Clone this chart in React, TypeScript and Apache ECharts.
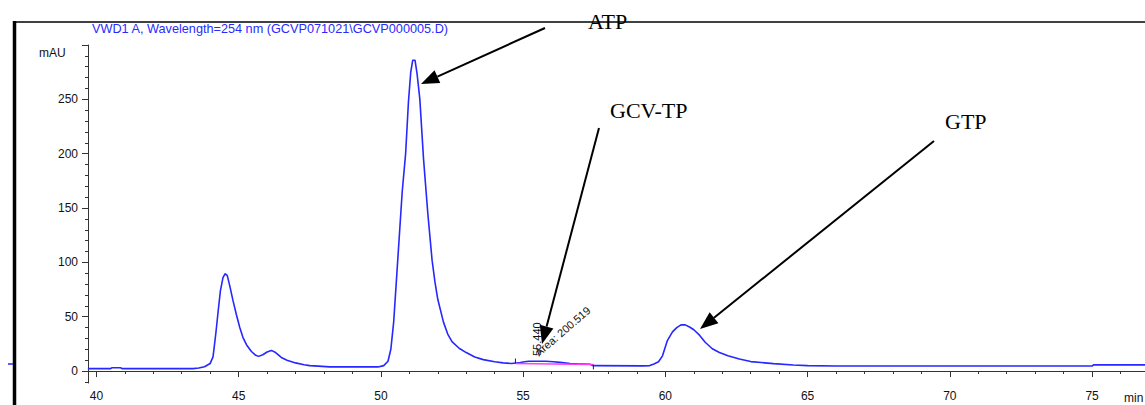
import React, { useEffect, useRef } from "react";
import * as echarts from "echarts";

// ---- data ----
const chromTime: number[] = [
  39.7, 40.5, 40.55, 40.85, 40.9, 43.4, 43.6, 43.8, 44.0, 44.1, 44.2, 44.28, 44.36, 44.45, 44.52,
  44.6, 44.7, 44.8, 44.92, 45.04, 45.15, 45.28, 45.45, 45.6, 45.7, 45.85, 46.0, 46.15, 46.3, 46.5,
  46.7, 47.0, 47.3, 47.5, 47.8, 48.2, 49.9, 50.1, 50.25, 50.35, 50.45, 50.55, 50.65, 50.75, 50.87,
  50.97, 51.05, 51.12, 51.2, 51.27, 51.37, 51.5, 51.65, 51.8, 51.9, 52.0, 52.2, 52.35, 52.5, 52.75,
  53.0, 53.3, 53.6, 54.0, 54.3, 54.6, 54.9, 55.05, 55.2, 55.8, 56.06, 56.3, 56.65, 56.9, 57.35,
  57.45, 59.2, 59.45, 59.6, 59.76, 59.9, 60.07, 60.25, 60.4, 60.55, 60.7, 60.85, 61.0, 61.2, 61.4,
  61.65, 61.9, 62.2, 62.6, 63.0, 63.8, 64.5, 65.0, 66.0, 75.0, 75.05, 76.9,
];
const chromMAU: number[] = [
  2.2, 2.2, 3.0, 3.0, 2.2, 2.2, 2.8, 4, 7, 13, 35, 55, 74, 86, 89.5,
  88, 77, 65, 52, 40, 31, 24, 18, 14.5, 13.5, 15, 17.5, 19, 17, 12.5,
  10, 7.5, 5.8, 5, 4.5, 3.8, 3.8, 5, 9, 20, 45, 85, 125, 165, 200,
  248, 275, 286, 286, 274, 250, 195, 145, 102, 82, 66, 45, 34, 27, 21,
  17, 13, 10.5, 8.5, 7.5, 7, 7.8, 8.5, 9, 9, 8.5, 8, 7, 6.6, 6.2,
  5, 4.8, 5, 6.5, 8.5, 14, 28, 36, 40, 42.5, 42.5, 40.5, 38, 33, 26.5,
  20.5, 17, 14, 11, 8.7, 6.8, 5.6, 5, 4.6, 4.6, 5.7, 5.7,
];
const baselineTime: number[] = [54.73, 57.47];
const baselineMAU: number[] = [7, 6];
const peakLabelRT = "55.440";
const peakLabelArea = "Area: 200.519";
const xMajorTicks: number[] = [40, 45, 50, 55, 60, 65, 70, 75];
const xMinorTicks: number[] = Array.from({ length: 37 }, (_, i) => 40 + i);
const yMajorTicks: number[] = [0, 50, 100, 150, 200, 250, 300];
const yLabelTicks: number[] = [0, 50, 100, 150, 200, 250];
const yMinorTicks: number[] = Array.from({ length: 32 }, (_, i) => -10 + i * 10);
const titleText = "VWD1 A, Wavelength=254 nm (GCVP071021\\GCVP000005.D)";
const yUnit = "mAU";
const xUnit = "min";
const annotations = ["ATP", "GCV-TP", "GTP"];

function arrow(x1: number, y1: number, x2: number, y2: number) {
  const dx = x2 - x1, dy = y2 - y1;
  const len = Math.sqrt(dx * dx + dy * dy);
  const ux = dx / len, uy = dy / len;
  const hl = 18, hw = 7;
  const bx = x2 - ux * hl, by = y2 - uy * hl;
  const px = -uy, py = ux;
  return [
    { type: "line", shape: { x1, y1, x2: bx, y2: by }, style: { stroke: "#000", lineWidth: 2 } },
    {
      type: "polygon",
      shape: { points: [[x2, y2], [bx + px * hw, by + py * hw], [bx - px * hw, by - py * hw]] },
      style: { fill: "#000" },
    },
  ];
}

export default function App() {
  const ref = useRef<HTMLDivElement>(null);
  useEffect(() => {
    if (!ref.current) return;
    const chart = echarts.init(ref.current, null, { renderer: "svg" });
    const xMin = 39.705, xMax = 76.86, yMin = -11, yMax = 300;
    const axisColor = "#333";
    const labelFont = { color: "#111", fontSize: 12, fontFamily: "Arial, 'Liberation Sans', sans-serif" };
    const serif = "'Times New Roman', 'Liberation Serif', serif";
    chart.setOption({
      animation: false,
      grid: { left: 88, right: 0, top: 45, bottom: 22 },
      xAxis: [
        {
          type: "value", min: xMin, max: xMax,
          axisLine: { show: true, lineStyle: { color: axisColor, width: 1 } },
          axisTick: { show: true, customValues: xMinorTicks, length: 3, lineStyle: { color: axisColor } },
          axisLabel: { show: true, customValues: xMajorTicks, margin: 7, ...labelFont },
          splitLine: { show: false },
        },
        {
          type: "value", min: xMin, max: xMax, position: "bottom",
          axisLine: { show: false },
          axisTick: { show: true, customValues: xMajorTicks, length: 6, lineStyle: { color: axisColor } },
          axisLabel: { show: false },
          splitLine: { show: false },
        },
      ],
      yAxis: [
        {
          type: "value", min: yMin, max: yMax,
          axisLine: { show: true, lineStyle: { color: axisColor, width: 1 } },
          axisTick: { show: true, customValues: yMinorTicks, length: 3, lineStyle: { color: axisColor } },
          axisLabel: { show: true, customValues: yLabelTicks, margin: 10, ...labelFont },
          splitLine: { show: false },
        },
        {
          type: "value", min: yMin, max: yMax, position: "left",
          axisLine: { show: false },
          axisTick: { show: true, customValues: yMajorTicks, length: 6, lineStyle: { color: axisColor } },
          axisLabel: { show: false },
          splitLine: { show: false },
        },
      ],
      series: [
        {
          type: "line",
          data: chromTime.map((t, i) => [t, chromMAU[i]]),
          showSymbol: false,
          lineStyle: { color: "#2727ff", width: 1.6 },
          z: 3,
        },
        {
          type: "line",
          data: baselineTime.map((t, i) => [t, baselineMAU[i]]),
          showSymbol: false,
          lineStyle: { color: "#ff3cff", width: 1.6 },
          z: 4,
        },
        {
          type: "line",
          data: [[baselineTime[0], baselineMAU[0]], [baselineTime[0], baselineMAU[0] + 4.5]],
          showSymbol: false,
          lineStyle: { color: "#222", width: 1 },
          z: 5,
        },
        {
          type: "line",
          data: [[baselineTime[1], baselineMAU[1] - 4.5], [baselineTime[1], baselineMAU[1]]],
          showSymbol: false,
          lineStyle: { color: "#222", width: 1 },
          z: 5,
        },
      ],
      graphic: [
        { type: "line", shape: { x1: 13, y1: 22, x2: 1145, y2: 22 }, style: { stroke: "#000", lineWidth: 1.5 } },
        { type: "line", shape: { x1: 14.5, y1: 21, x2: 14.5, y2: 405 }, style: { stroke: "#000", lineWidth: 3.5 } },
        { type: "line", shape: { x1: 8, y1: 364, x2: 13, y2: 364 }, style: { stroke: "#2727ff", lineWidth: 1.5 } },
        {
          type: "text", x: 92, y: 29,
          style: { text: titleText, fill: "#2a2aff", font: "12.7px Arial, 'Liberation Sans', sans-serif", align: "left", verticalAlign: "middle" },
        },
        {
          type: "text", x: 39, y: 53,
          style: { text: yUnit, fill: "#111", font: "12px Arial, 'Liberation Sans', sans-serif", align: "left", verticalAlign: "middle" },
        },
        {
          type: "text", x: 1124, y: 398,
          style: { text: xUnit, fill: "#111", font: "12px Arial, 'Liberation Sans', sans-serif", align: "left", verticalAlign: "middle" },
        },
        {
          type: "text", x: 537, y: 356, rotation: Math.PI / 2,
          style: { text: peakLabelRT, fill: "#111", font: "11px Arial, 'Liberation Sans', sans-serif", align: "left", verticalAlign: "middle" },
        },
        {
          type: "text", x: 540, y: 358, rotation: 0.71,
          style: { text: peakLabelArea, fill: "#111", font: "11px Arial, 'Liberation Sans', sans-serif", align: "left", verticalAlign: "bottom" },
        },
        {
          type: "text", x: 588, y: 21,
          style: { text: annotations[0], fill: "#000", font: `22px ${serif}`, align: "left", verticalAlign: "middle" },
        },
        {
          type: "text", x: 610, y: 110,
          style: { text: annotations[1], fill: "#000", font: `22px ${serif}`, align: "left", verticalAlign: "middle" },
        },
        {
          type: "text", x: 945, y: 121,
          style: { text: annotations[2], fill: "#000", font: `22px ${serif}`, align: "left", verticalAlign: "middle" },
        },
        ...arrow(545, 28, 421, 84),
        ...arrow(599, 128, 542, 344),
        ...arrow(934, 141, 700, 329),
      ],
    });
    return () => chart.dispose();
  }, []);
  return (
    <div
      ref={ref}
      style={{ position: "absolute", left: 0, top: 0, width: 1145, height: 405, background: "#fff" }}
    />
  );
}
